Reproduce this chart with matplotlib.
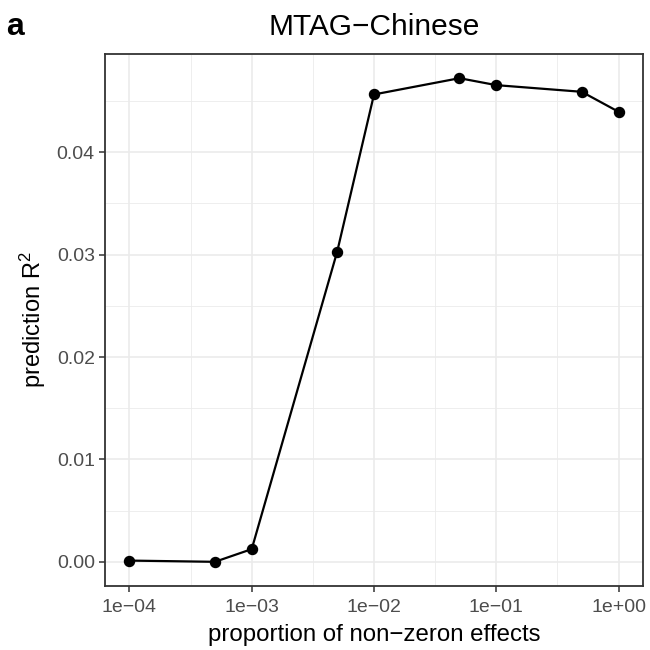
import numpy as np
import matplotlib.pyplot as plt
from matplotlib.ticker import FixedLocator, FixedFormatter

plt.rcParams['font.family'] = ['Liberation Sans', 'DejaVu Sans']
plt.rcParams['mathtext.fontset'] = 'custom'
plt.rcParams['mathtext.rm'] = 'Liberation Sans'
plt.rcParams['mathtext.it'] = 'Liberation Sans'

# proportion of non-zero effects vs prediction R2
prop = [1e-4, 5e-4, 1e-3, 5e-3, 1e-2, 5e-2, 1e-1, 5e-1, 1.0]
r2 = [0.00012, 0.00000, 0.00124, 0.0303, 0.04565, 0.04724, 0.04656, 0.04591, 0.04396]

x_ticks = [1e-4, 1e-3, 1e-2, 1e-1, 1.0]
x_labels = ['1e\u221204', '1e\u221203', '1e\u221202', '1e\u221201', '1e+00']
y_ticks = [0.00, 0.01, 0.02, 0.03, 0.04]
y_labels = ['0.00', '0.01', '0.02', '0.03', '0.04']

grid_col = '#EBEBEB'
border_col = '#333333'
text_col = '#4D4D4D'

fig = plt.figure(figsize=(6.5, 6.5), dpi=100)
ax = fig.add_axes([105 / 650, 1 - 586 / 650, 538 / 650, 532 / 650])

ax.set_xscale('log')
# ggplot-like 5% expansion
lx = np.log10([min(prop), max(prop)])
dx = (lx[1] - lx[0]) * 0.05
ax.set_xlim(10 ** (lx[0] - dx), 10 ** (lx[1] + dx))
ymin, ymax = min(r2), max(r2)
dy = (ymax - ymin) * 0.05
ax.set_ylim(ymin - dy, ymax + dy)

# grid lines
x_minor = [10 ** (v + 0.5) for v in np.log10(x_ticks[:-1])]
y_minor = [v + 0.005 for v in y_ticks]
for v in x_minor:
    ax.axvline(v, color=grid_col, lw=0.6, zorder=0)
for v in y_minor:
    ax.axhline(v, color=grid_col, lw=0.6, zorder=0)
for v in x_ticks:
    ax.axvline(v, color=grid_col, lw=1.2, zorder=0)
for v in y_ticks:
    ax.axhline(v, color=grid_col, lw=1.2, zorder=0)

ax.plot(prop, r2, color='black', lw=1.6, zorder=3)
ax.scatter(prop, r2, color='black', s=52, zorder=4)

ax.xaxis.set_major_locator(FixedLocator(x_ticks))
ax.xaxis.set_major_formatter(FixedFormatter(x_labels))
ax.xaxis.set_minor_locator(FixedLocator([]))
ax.yaxis.set_major_locator(FixedLocator(y_ticks))
ax.yaxis.set_major_formatter(FixedFormatter(y_labels))

ax.tick_params(axis='both', length=4.3, width=1.1, color=border_col,
               labelcolor=text_col, labelsize=14, pad=3)
ax.tick_params(axis='x', pad=5)
for s in ax.spines.values():
    s.set_color(border_col)
    s.set_linewidth(1.3)

ax.set_xlabel('proportion of non\u2212zeron effects', fontsize=17.3, labelpad=6)
ax.set_ylabel('prediction R$^{2}$', fontsize=17, labelpad=6)
ax.set_title('MTAG\u2212Chinese', fontsize=21.5, pad=13.5)

fig.text(6 / 650, 1 - 35 / 650, 'a', fontsize=23, fontweight='bold', va='baseline')

fig.savefig('out.png', dpi=100)
